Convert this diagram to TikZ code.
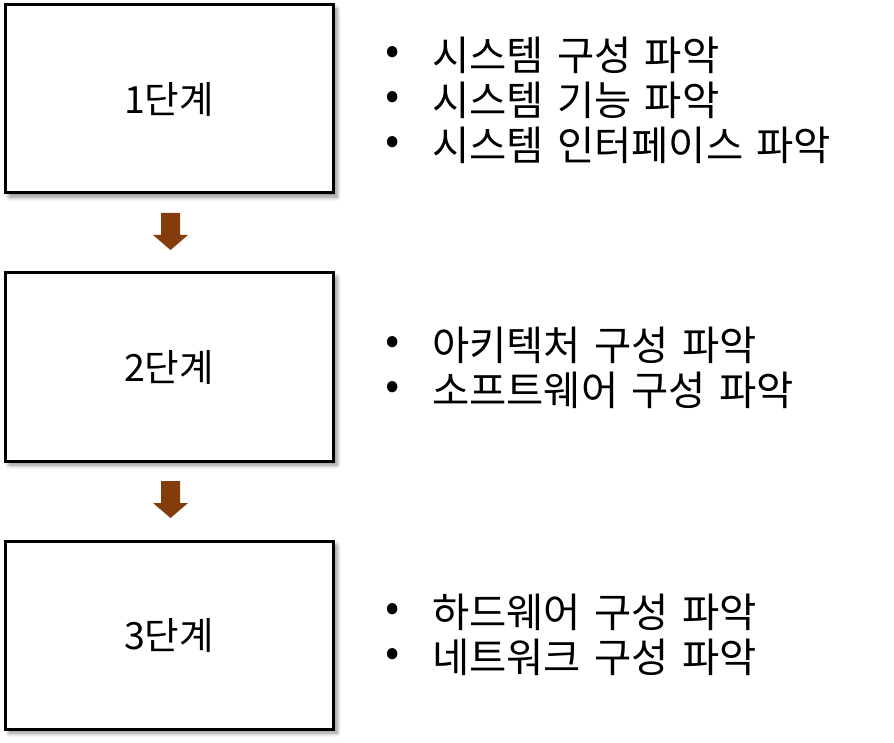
\documentclass[tikz,border=0pt]{standalone}
\usepackage{fontspec}
\setmainfont{Noto Sans CJK KR}[WordSpace={1.45,0,0}]
\usetikzlibrary{shadows.blur}
\definecolor{arrowbrown}{RGB}{132,60,12}
\tikzset{
  stagebox/.style={draw=black, line width=3pt, fill=white, minimum width=328pt, minimum height=188pt, inner sep=0pt,
    blur shadow={shadow xshift=4pt, shadow yshift=-4pt, shadow blur steps=6, shadow blur radius=4pt, shadow opacity=45},
    font=\fontsize{37.5}{44}\selectfont},
  bul/.style={font=\fontsize{42}{48}\selectfont, inner sep=0pt, anchor=center},
  item/.style={font=\fontsize{40.5}{48}\selectfont, inner sep=0pt, anchor=west},
  downarrow/.style={fill=arrowbrown, draw=none}
}
\begin{document}
\begin{tikzpicture}[x=1pt,y=-1pt]
\useasboundingbox (0,0) rectangle (894,743);
\node[stagebox] (s1) at (169,99) {1단계};
\node[stagebox] (s2) at (169,367) {2단계};
\node[stagebox] (s3) at (169,635) {3단계};
% arrows
\coordinate (a1) at (170.5,213);
\coordinate (a2) at (170.5,481);
\foreach \a in {a1,a2}{
  \fill[downarrow] ([xshift=-9.5pt]\a) -- ([xshift=9.5pt]\a) -- ([xshift=9.5pt,yshift=-22pt]\a) -- ([xshift=17.5pt,yshift=-22pt]\a)
     -- ([yshift=-37pt]\a) -- ([xshift=-17.5pt,yshift=-22pt]\a) -- ([xshift=-9.5pt,yshift=-22pt]\a) -- cycle;
}
% bullets
\foreach \y/\t [count=\i] in {55/시스템 구성 파악, 100/시스템 기능 파악, 145/시스템 인터페이스 파악,
   345/아키텍처 구성 파악, 390/소프트웨어 구성 파악, 612/하드웨어 구성 파악, 657/네트워크 구성 파악}{
  \node[bul] (b\i) at (393,\y) {•};
  \node[item] (t\i) at (432,\y) {\t};
}
\end{tikzpicture}
\end{document}
